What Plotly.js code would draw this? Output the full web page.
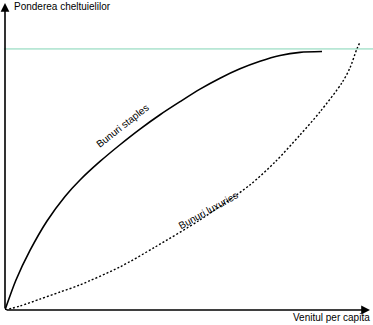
<!DOCTYPE html>
<html>
<head>
<meta charset="utf-8">
<script src="https://cdn.plot.ly/plotly-3.0.1.min.js"></script>
<style>html,body{margin:0;padding:0;background:#fff}#chart{width:373px;height:325px}</style>
</head>
<body>
<div id="chart"></div>
<script>
// Income (0-100) and expenditure share (1 = upper limit line)
const staplesIncome = [0,3.01,6.85,11.51,16.44,20.55,26.03,31.51,36.99,42.47,47.95,53.42,58.9,64.38,69.86,75.34,80.82,86.85];
const staplesShare  = [0,0.115,0.228,0.341,0.435,0.498,0.569,0.633,0.693,0.748,0.798,0.846,0.888,0.924,0.953,0.975,0.987,0.99];
const luxuryIncome  = [0,4.1,9.6,15.1,20.5,31.5,41.1,53.4,67.1,74,80.8,86.3,92.3,94.5,96.4,97.3];
const luxuryShare   = [0,0.015,0.042,0.069,0.096,0.165,0.241,0.345,0.479,0.567,0.67,0.759,0.87,0.927,1.0,1.027];
const limitShare = 1;
const xMax = 100, yMax = 1.176;
const yTitle = "Ponderea cheltuielilor";
const xTitle = "Venitul per capita";
const staplesLabel = "Bunuri staples";
const luxuryLabel = "Bunuri luxuries";

const font = {family: "Liberation Sans, Arial, sans-serif", size: 10, color: "#000"};

const traces = [
  {x: staplesIncome, y: staplesShare, mode: "lines", line: {color: "#000", width: 1.6, shape: "spline", smoothing: 0.8}, hoverinfo: "skip"},
  {x: luxuryIncome, y: luxuryShare, mode: "lines", line: {color: "#000", width: 1.4, dash: "2px,2px", shape: "spline", smoothing: 0.8}, hoverinfo: "skip"}
];

const layout = {
  width: 373, height: 325,
  margin: {l: 5, r: 3, t: 3, b: 15, pad: 0},
  paper_bgcolor: "#fff", plot_bgcolor: "#fff",
  showlegend: false,
  font: font,
  xaxis: {range: [0, xMax], showgrid: false, zeroline: false, showticklabels: false, showline: false, ticks: "", fixedrange: true},
  yaxis: {range: [0, yMax], showgrid: false, zeroline: false, showticklabels: false, showline: false, ticks: "", fixedrange: true},
  shapes: [
    {type: "line", xref: "paper", yref: "y", x0: -0.003, x1: 1.01, y0: limitShare, y1: limitShare, line: {color: "#80d4b4", width: 1}}
  ],
  annotations: [
    {x: 0, y: yMax, xref: "x", yref: "y", ax: 0, ay: 0, axref: "x", ayref: "y", showarrow: true, arrowhead: 2, arrowsize: 1.1, arrowwidth: 1.6, arrowcolor: "#000", text: "", standoff: 0},
    {x: xMax, y: 0, xref: "x", yref: "y", ax: 0, ay: 0, axref: "x", ayref: "y", showarrow: true, arrowhead: 2, arrowsize: 1.1, arrowwidth: 1.6, arrowcolor: "#000", text: "", standoff: 0},
    {x: 0.019, y: 0.9886, xref: "paper", yref: "paper", xanchor: "left", yanchor: "middle", showarrow: false, text: yTitle, font: font},
    {x: 1.0055, y: -0.026, xref: "paper", yref: "paper", xanchor: "right", yanchor: "middle", showarrow: false, text: xTitle, font: font},
    {x: 32.3, y: 0.705, xref: "x", yref: "y", showarrow: false, text: staplesLabel, textangle: -38, font: font},
    {x: 55.6, y: 0.383, xref: "x", yref: "y", showarrow: false, text: luxuryLabel, textangle: -29, font: font}
  ]
};

Plotly.newPlot("chart", traces, layout, {staticPlot: true, displayModeBar: false});
</script>
</body>
</html>
